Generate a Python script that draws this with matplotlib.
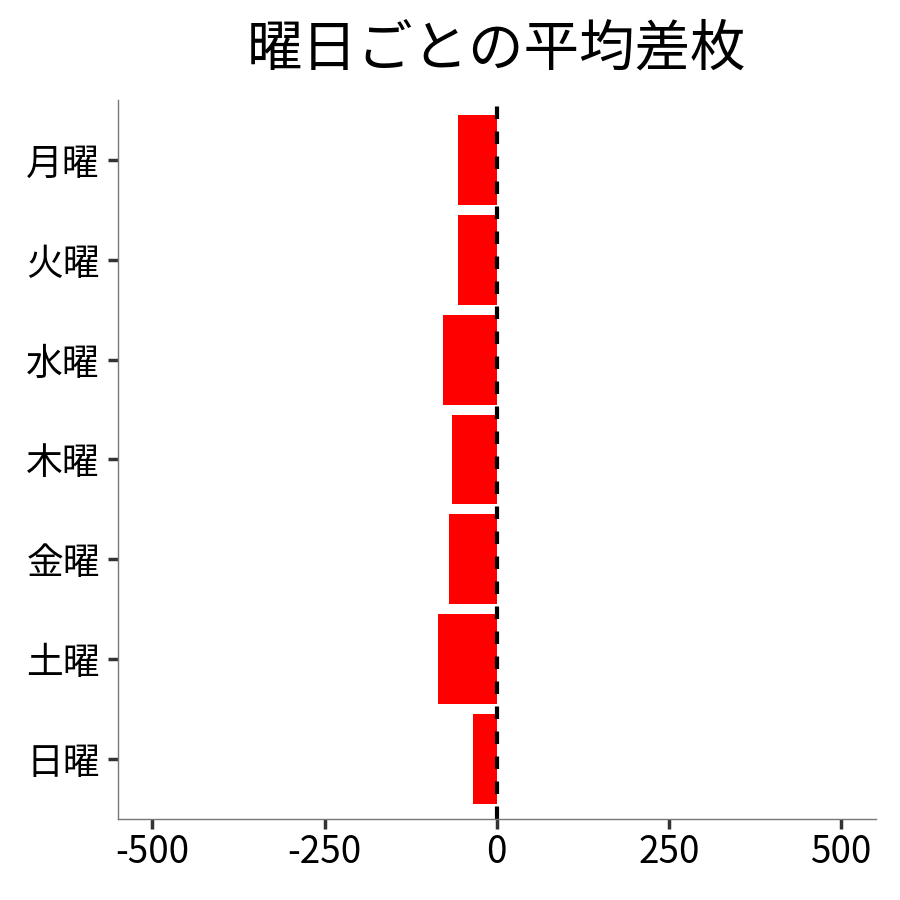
import matplotlib
matplotlib.use('Agg')
import matplotlib.pyplot as plt

plt.rcParams['font.family'] = ['Noto Sans CJK JP', 'DejaVu Sans']

# 曜日ごとの平均差枚
days = ['月曜', '火曜', '水曜', '木曜', '金曜', '土曜', '日曜']
avg_diff = [-57, -56, -78, -65, -70, -86, -34]

fig, ax = plt.subplots(figsize=(9, 9), dpi=100)

ax.barh(days, avg_diff, height=0.9, color='#FF0000')
ax.axvline(0, color='black', linestyle='--', linewidth=3, dashes=(3, 3))

ax.set_xlim(-550, 550)
ax.set_ylim(6.6, -0.6)
ax.set_xticks([-500, -250, 0, 250, 500])
ax.set_xticklabels(['-500', '-250', '0', '250', '500'])
ax.tick_params(axis='both', labelsize=26.5, length=7, width=2.5, color='#333333')
ax.tick_params(axis='y', pad=6)
ax.tick_params(axis='x', pad=3)

for side in ['top', 'right']:
    ax.spines[side].set_visible(False)
for side in ['left', 'bottom']:
    ax.spines[side].set_color('#777777')
    ax.spines[side].set_linewidth(1)

ax.set_title('曜日ごとの平均差枚', fontsize=40, pad=25)

plt.subplots_adjust(left=0.131, right=0.973, top=0.889, bottom=0.09)
plt.savefig('out.png', dpi=100)
